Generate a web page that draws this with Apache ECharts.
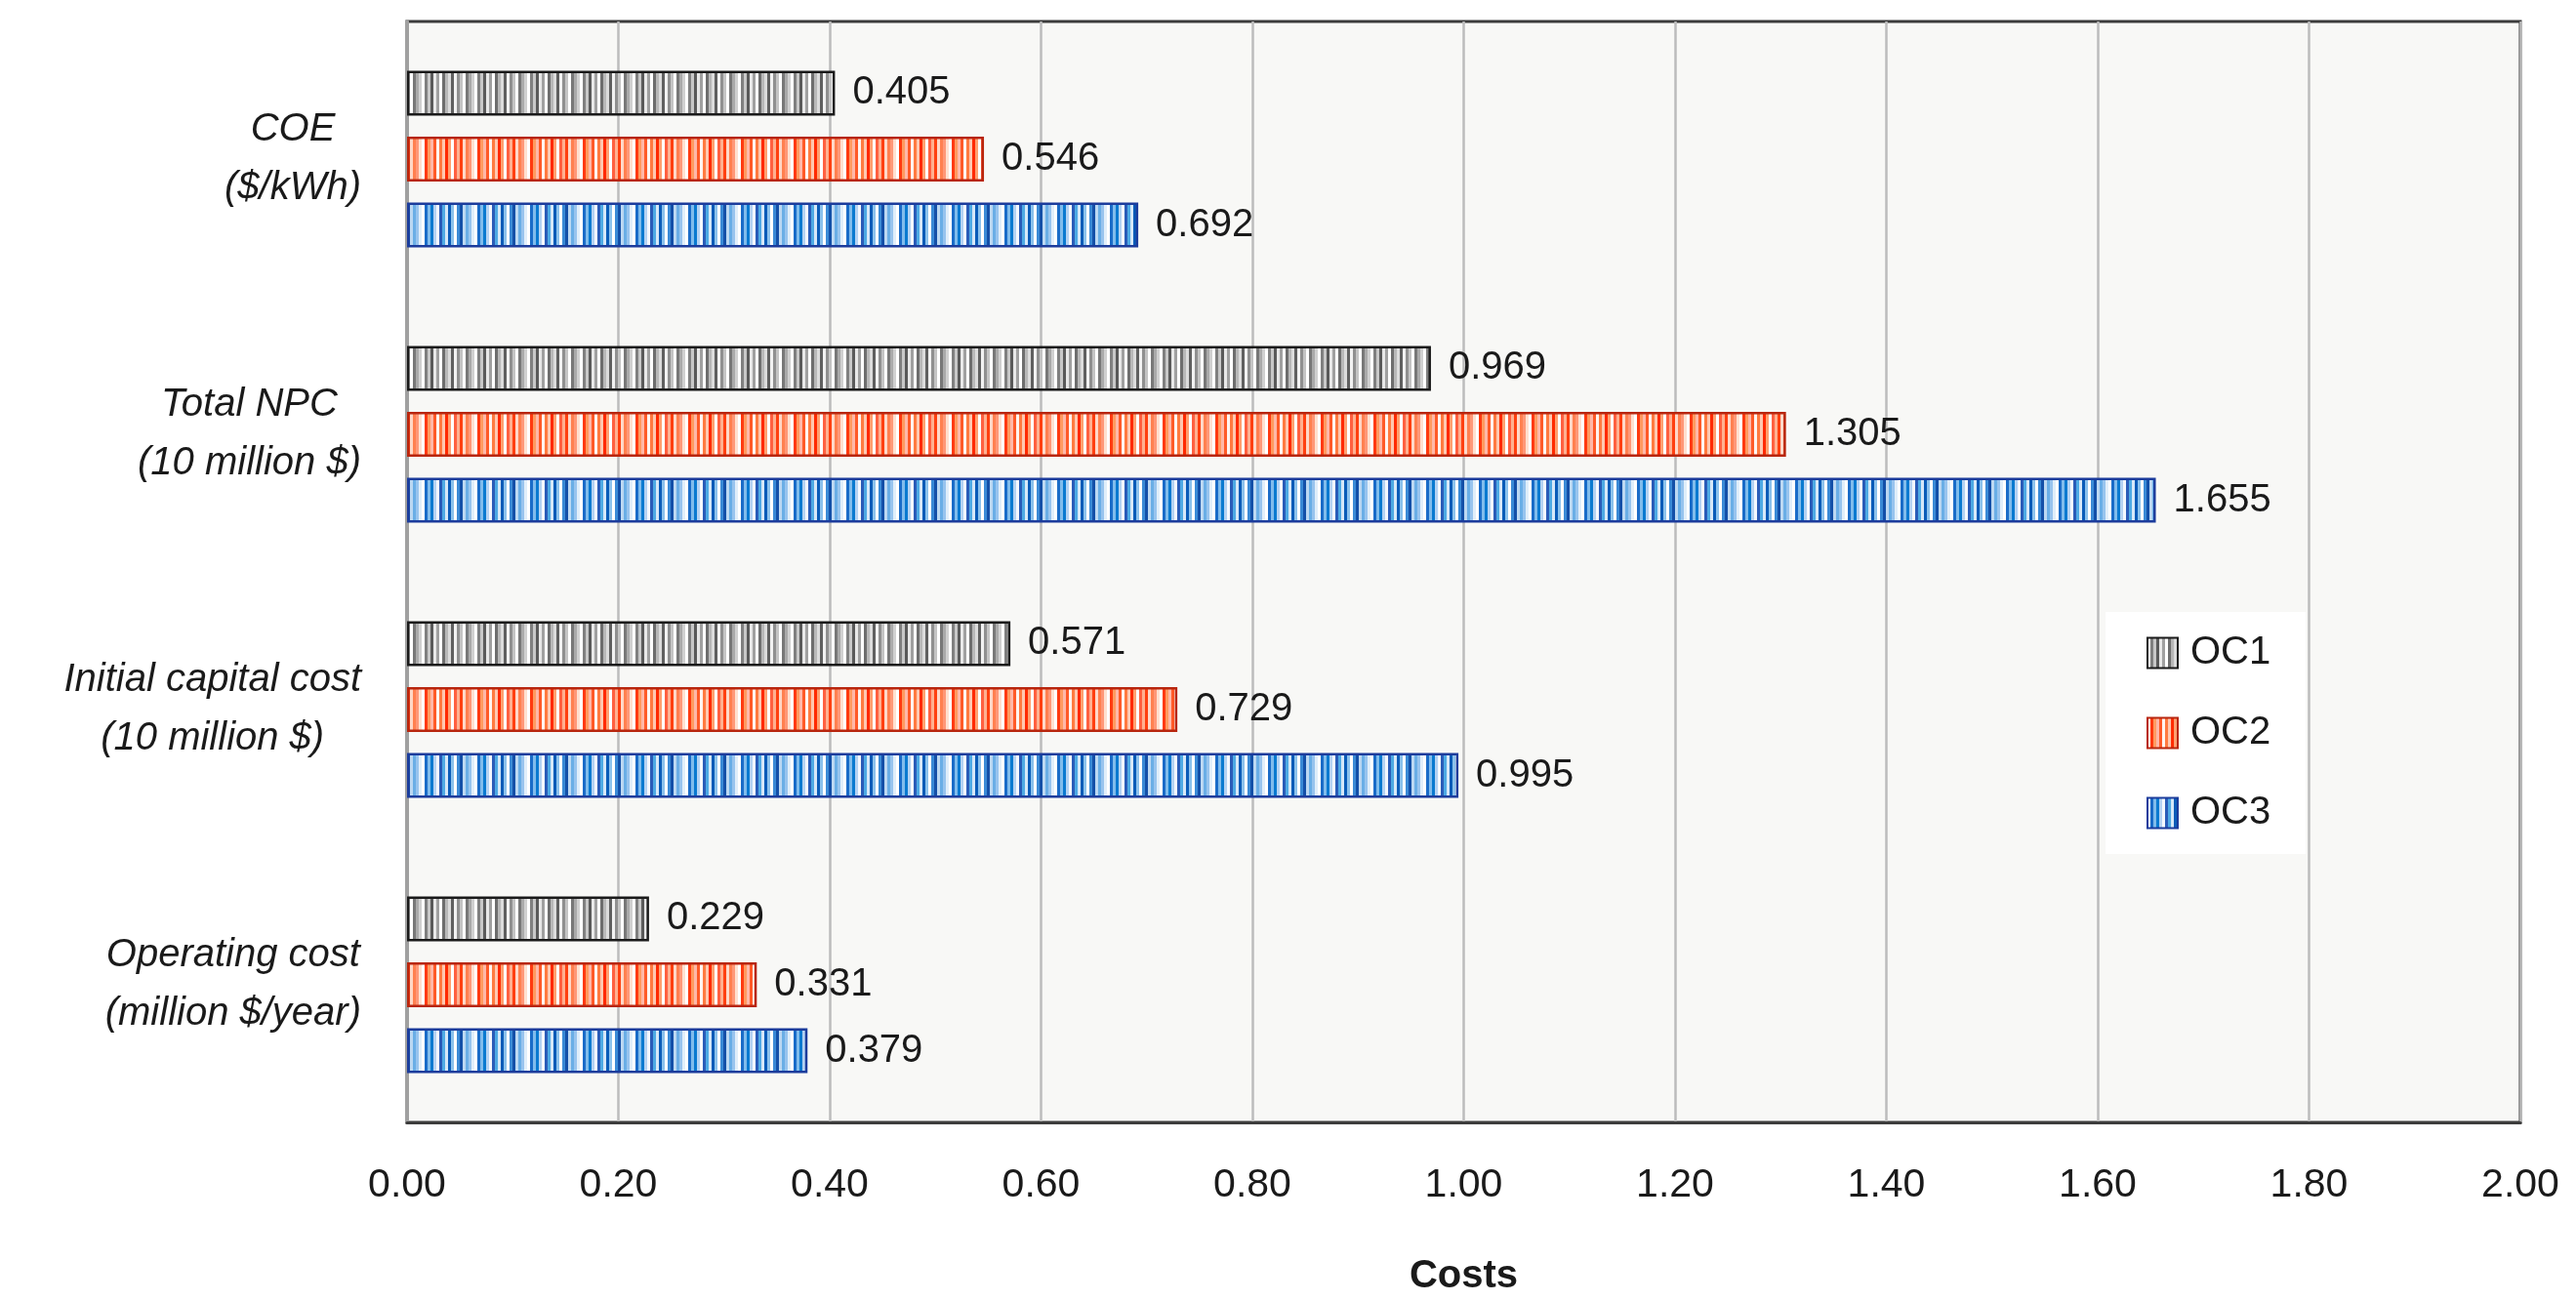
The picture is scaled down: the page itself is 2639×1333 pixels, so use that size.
<!DOCTYPE html>
<html>
<head>
<meta charset="utf-8">
<script src="https://cdn.jsdelivr.net/npm/echarts@6/dist/echarts.min.js"></script>
<style>
html,body{margin:0;padding:0;background:#ffffff;}
#chart{width:2639px;height:1333px;}
</style>
</head>
<body>
<div id="chart"></div>
<script>
// ---- data ----
const categories = ['COE\n($/kWh)', 'Total NPC\n(10 million $)', 'Initial capital cost\n(10 million $)', 'Operating cost\n(million $/year)'];
const seriesNames = ['OC1', 'OC2', 'OC3'];
const oc1 = [0.405, 0.969, 0.571, 0.229];
const oc2 = [0.546, 1.305, 0.729, 0.331];
const oc3 = [0.692, 1.655, 0.995, 0.379];
const xMin = 0, xMax = 2, xStep = 0.2;
const axisTitle = 'Costs';

// ---- styles ----
const FONT = '"Liberation Sans", Arial, sans-serif';
const stripeSets = {
  gray: ['#ffffff','#808080','#c8c8c8','#5a5a5a','#e8e8e8','#a0a0a0','#ffffff','#6e6e6e','#b8b8b8','#dcdcdc','#606060','#f2f2f2','#909090','#c4c4c4','#ffffff','#787878','#aaaaaa','#d0d0d0'],
  red:  ['#ffffff','#ff3a10','#ff9a60','#ffb8a8','#ff5a28','#fff4f0','#ff7a40','#ffc8b0','#ff2a00','#ffa070','#ffffff','#ff6040','#ffb090','#ff4010','#ffd8c8','#ff8050','#ff9878','#ffe0d0'],
  blue: ['#ffffff','#1a6cc8','#80bcec','#0a7ad0','#b4d2f2','#f4f8fe','#2a5cb8','#4eaae4','#d6e8f8','#0a5cb8','#8cc2ec','#ffffff','#3a8ad6','#1450a8','#bcd8f2','#6aaee6','#98c4ee','#e0eefa']
};
function stripes(cols) {
  const w = 3;
  const c = document.createElement('canvas');
  c.width = cols.length * w; c.height = 8;
  const ctx = c.getContext('2d');
  cols.forEach((col, i) => { ctx.fillStyle = col; ctx.fillRect(i * w, 0, w, 8); });
  return { image: c, repeat: 'repeat' };
}
const fills = [stripes(stripeSets.gray), stripes(stripeSets.red), stripes(stripeSets.blue)];
const borders = ['#1a1a1a', '#b8260e', '#1c3c9c'];
const values = [oc1, oc2, oc3];

const chart = echarts.init(document.getElementById('chart'), null, { renderer: 'canvas' });

const series = seriesNames.map((name, i) => ({
  name: name,
  type: 'bar',
  data: values[i],
  barWidth: 46,
  barGap: '47%',
  itemStyle: { color: fills[i], borderColor: borders[i], borderWidth: 2.5 },
  label: {
    show: true, position: 'right', distance: 18,
    color: '#1a1a1a', fontFamily: FONT, fontSize: 40,
    formatter: p => p.value.toFixed(3)
  },
  emphasis: { disabled: true }
}));

chart.setOption({
  animation: false,
  backgroundColor: '#ffffff',
  grid: {
    left: 417, right: 57, top: 22, bottom: 180,
    show: true, backgroundColor: '#f8f8f6', borderColor: '#3c3c3c', borderWidth: 3
  },
  legend: {
    orient: 'vertical',
    left: 2157, top: 627,
    backgroundColor: '#ffffff',
    padding: [22, 36, 22, 42],
    itemWidth: 31, itemHeight: 31, itemGap: 42,
    icon: 'rect',
    textStyle: { fontFamily: FONT, fontSize: 40, color: '#1a1a1a', padding: [0, 0, 0, 8] },
    data: seriesNames
  },
  xAxis: {
    type: 'value', min: xMin, max: xMax, interval: xStep,
    name: axisTitle, nameLocation: 'middle', nameGap: 138,
    nameTextStyle: { fontFamily: FONT, fontSize: 40, fontWeight: 'bold', color: '#1a1a1a' },
    axisLine: { show: true, lineStyle: { color: '#3c3c3c', width: 3 } },
    axisTick: { show: false },
    axisLabel: { fontFamily: FONT, fontSize: 41, color: '#1a1a1a', margin: 44, lineHeight: 42,
      formatter: v => v.toFixed(2) },
    splitLine: { show: true, lineStyle: { color: '#bcbcbc', width: 2.5 } }
  },
  yAxis: {
    type: 'category', data: categories, inverse: true,
    axisLine: { show: true, lineStyle: { color: '#a0a0a0', width: 4 } },
    axisTick: { show: false },
    splitLine: { show: false },
    axisLabel: {
      margin: 47,
      formatter: v => v.split('\n').map(s => '{c|' + s + '}').join('\n'),
      rich: { c: { fontFamily: FONT, fontStyle: 'italic', fontSize: 40, lineHeight: 60, color: '#1a1a1a', align: 'center' } }
    }
  },
  series: series
});
</script>
</body>
</html>
